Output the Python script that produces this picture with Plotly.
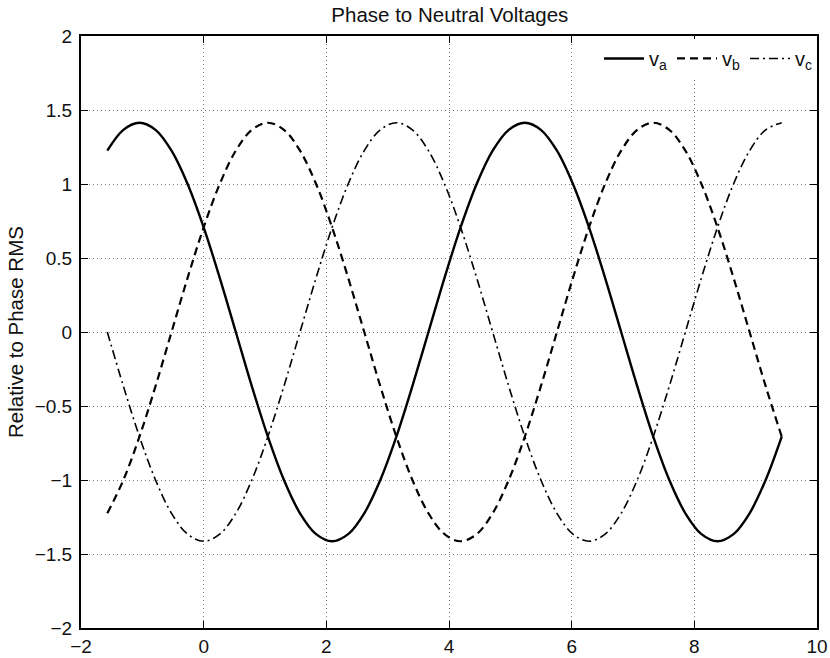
import plotly.graph_objects as go

x_vals = [-1.571, -1.309, -1.047, -0.785, -0.524, -0.262, 0.0, 0.262, 0.524, 0.785,
          1.047, 1.309, 1.571, 1.833, 2.094, 2.356, 2.618, 2.880, 3.142, 3.403,
          3.665, 3.927, 4.189, 4.451, 4.712, 4.974, 5.236, 5.498, 5.760, 6.021,
          6.283, 6.545, 6.807, 7.069, 7.330, 7.592, 7.854, 8.116, 8.378, 8.639,
          8.901, 9.163, 9.425]

va = [1.225, 1.366, 1.414, 1.366, 1.225, 1.0, 0.707, 0.366, 0.0, -0.366,
      -0.707, -1.0, -1.225, -1.366, -1.414, -1.366, -1.225, -1.0, -0.707, -0.366,
      0.0, 0.366, 0.707, 1.0, 1.225, 1.366, 1.414, 1.366, 1.225, 1.0,
      0.707, 0.366, 0.0, -0.366, -0.707, -1.0, -1.225, -1.366, -1.414, -1.366,
      -1.225, -1.0, -0.707]

vb = [-1.225, -1.0, -0.707, -0.366, 0.0, 0.366, 0.707, 1.0, 1.225, 1.366,
      1.414, 1.366, 1.225, 1.0, 0.707, 0.366, 0.0, -0.366, -0.707, -1.0,
      -1.225, -1.366, -1.414, -1.366, -1.225, -1.0, -0.707, -0.366, 0.0, 0.366,
      0.707, 1.0, 1.225, 1.366, 1.414, 1.366, 1.225, 1.0, 0.707, 0.366,
      0.0, -0.366, -0.707]

vc = [0.0, -0.366, -0.707, -1.0, -1.225, -1.366, -1.414, -1.366, -1.225, -1.0,
      -0.707, -0.366, 0.0, 0.366, 0.707, 1.0, 1.225, 1.366, 1.414, 1.366,
      1.225, 1.0, 0.707, 0.366, 0.0, -0.366, -0.707, -1.0, -1.225, -1.366,
      -1.414, -1.366, -1.225, -1.0, -0.707, -0.366, 0.0, 0.366, 0.707, 1.0,
      1.225, 1.366, 1.414]

series_names = ["v<sub>a</sub>", "v<sub>b</sub>", "v<sub>c</sub>"]
x_ticks = [-2, 0, 2, 4, 6, 8, 10]
y_ticks = [-2, -1.5, -1, -0.5, 0, 0.5, 1, 1.5, 2]
y_tick_text = ["\u22122", "\u22121.5", "\u22121", "\u22120.5", "0", "0.5", "1", "1.5", "2"]
x_tick_text = ["\u22122", "0", "2", "4", "6", "8", "10"]

FONT = "Liberation Sans, Arial, Helvetica, sans-serif"

fig = go.Figure()
styles = [
    dict(color="black", width=2.4, dash="solid"),
    dict(color="black", width=2.2, dash="8px,5px"),
    dict(color="black", width=1.6, dash="9px,4px,2px,4px"),
]
for name, ys, st in zip(series_names, [va, vb, vc], styles):
    fig.add_trace(go.Scatter(x=x_vals, y=ys, mode="lines", name=name,
                             line=dict(shape="spline", smoothing=1.0, **st)))

axis_common = dict(
    showline=True, linecolor="black", linewidth=2, mirror="ticks",
    ticks="inside", ticklen=7, tickcolor="black", tickwidth=1.2,
    showgrid=True, gridcolor="#7a7a7a", gridwidth=1, griddash="1px,3px",
    zeroline=False, automargin=False,
    tickfont=dict(family=FONT, size=19, color="#111111"),
)

fig.update_layout(
    width=830, height=658,
    margin=dict(l=81, r=13, t=36, b=30),
    paper_bgcolor="white", plot_bgcolor="white",
    title=dict(text="Phase to Neutral Voltages", x=0.542, xanchor="center",
               y=0.977, yanchor="middle",
               font=dict(family=FONT, size=20.5, color="#111111")),
    xaxis=dict(range=[-2, 10], tickvals=x_ticks, ticktext=x_tick_text, **axis_common),
    yaxis=dict(range=[-2, 2], tickvals=y_ticks, ticktext=y_tick_text,
               ticklabelstandoff=3, **axis_common),
    annotations=[dict(text="Relative to Phase RMS", textangle=-90,
                      x=0, xref="paper", y=0.5, yref="paper",
                      xanchor="center", yanchor="middle", xshift=-66, showarrow=False,
                      font=dict(family=FONT, size=20.5, color="#111111"))],
    showlegend=True,
    legend=dict(orientation="h", x=1, y=0.995, xanchor="right", yanchor="top",
                bgcolor="white", borderwidth=0,
                font=dict(family=FONT, size=20, color="#111111"),
                itemwidth=40, tracegroupgap=0),
)

fig.write_html("out.html", config={"displayModeBar": False},
               post_script="document.body.style.margin='0';document.body.style.padding='0';")
